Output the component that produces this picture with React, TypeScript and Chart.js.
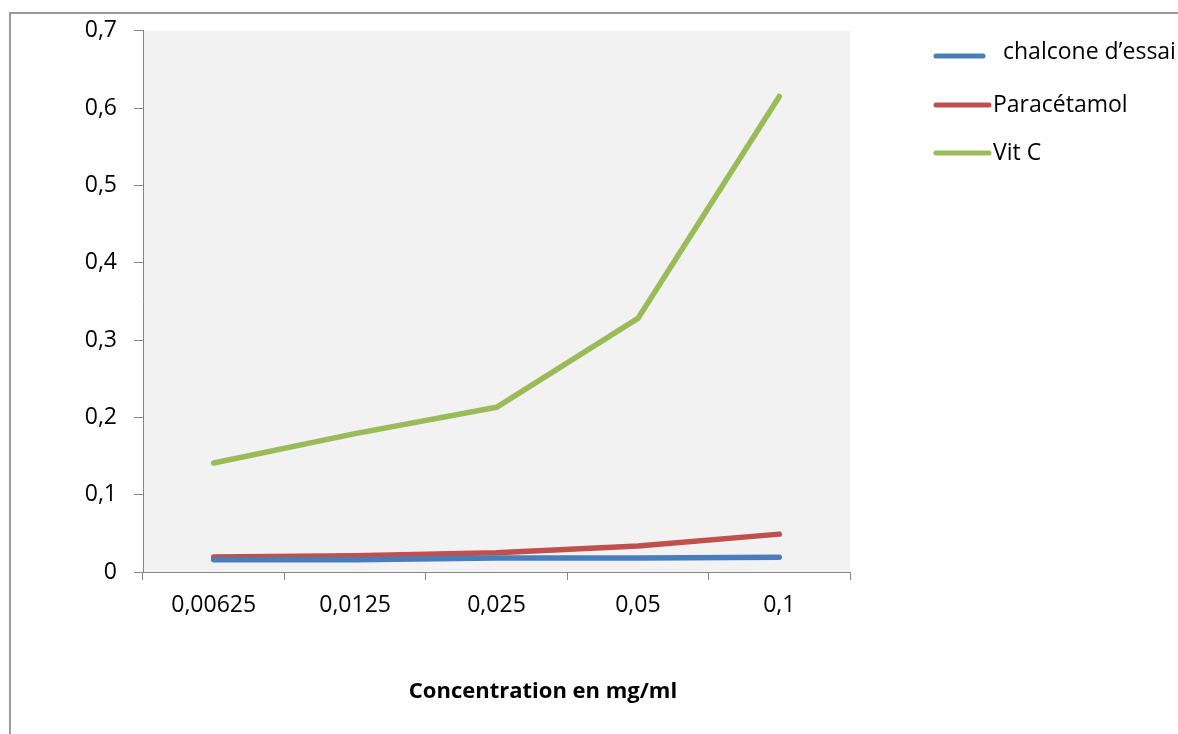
import React, { useEffect, useRef } from "react";
import { Chart, registerables } from "chart.js";

Chart.register(...registerables);

const categories = ["0,00625", "0,0125", "0,025", "0,05", "0,1"];
const chalcone = [0.016, 0.016, 0.018, 0.018, 0.019];
const paracetamol = [0.0195, 0.021, 0.025, 0.0335, 0.049];
const vitC = [0.141, 0.179, 0.213, 0.328, 0.615];
const seriesLabels = [" chalcone d\u2019essai", "Paracétamol", "Vit C"];
const seriesColors = ["#4a7ebb", "#c0504d", "#9bbb59"];
const xTitle = "Concentration en mg/ml";

const FONT = "'Open Sans', sans-serif";

const decor = {
  id: "decor",
  beforeDraw(chart: any) {
    const { ctx, chartArea } = chart;
    ctx.save();
    ctx.fillStyle = "#f2f2f2";
    ctx.fillRect(chartArea.left, chartArea.top, chartArea.right - chartArea.left, chartArea.bottom - chartArea.top);
    // outer frame
    ctx.strokeStyle = "#9a9a9a";
    ctx.lineWidth = 2;
    ctx.beginPath();
    ctx.moveTo(10, 734);
    ctx.lineTo(10, 13);
    ctx.lineTo(1178, 13);
    ctx.stroke();
    ctx.restore();
  },
  afterDraw(chart: any) {
    const { ctx } = chart;
    ctx.save();
    // legend
    const rows = [
      { y: 56, x0: 936, x1: 983, tx: 997, ty: 52 },
      { y: 105, x0: 936, x1: 989, tx: 993, ty: 105 },
      { y: 153, x0: 936, x1: 989, tx: 993, ty: 153 },
    ];
    chart.data.datasets.forEach((ds: any, i: number) => {
      const r = rows[i];
      ctx.strokeStyle = ds.borderColor;
      ctx.lineWidth = 5;
      ctx.lineCap = "round";
      ctx.beginPath();
      ctx.moveTo(r.x0, r.y);
      ctx.lineTo(r.x1, r.y);
      ctx.stroke();
      ctx.fillStyle = "#000";
      ctx.font = `23px ${FONT}`;
      ctx.textBaseline = "middle";
      ctx.textAlign = "left";
      ctx.fillText(ds.label, r.tx, r.ty);
    });
    // x title
    ctx.font = `bold 22px ${FONT}`;
    ctx.fillStyle = "#000";
    ctx.textAlign = "center";
    ctx.textBaseline = "middle";
    ctx.fillText(xTitle, 543, 692);
    ctx.restore();
  },
};

export default function App() {
  const ref = useRef<HTMLCanvasElement>(null);
  useEffect(() => {
    const prevMargin = document.body.style.margin;
    document.body.style.margin = "0";
    const data = [chalcone, paracetamol, vitC];
    const chart = new Chart(ref.current as HTMLCanvasElement, {
      type: "line",
      data: {
        labels: categories,
        datasets: data.map((d, i) => ({
          label: seriesLabels[i],
          data: d,
          borderColor: seriesColors[i],
          backgroundColor: seriesColors[i],
          borderWidth: 5.5,
          borderCapStyle: "round",
          borderJoinStyle: "round",
          pointRadius: 0,
          pointHoverRadius: 0,
          tension: 0,
          fill: false,
        })),
      },
      options: {
        animation: false,
        responsive: false,
        maintainAspectRatio: false,
        layout: { padding: { left: 0, top: 30, right: 328, bottom: 0 } },
        plugins: { legend: { display: false }, tooltip: { enabled: false }, title: { display: false } },
        scales: {
          x: {
            offset: true,
            grid: { offset: true, drawOnChartArea: false, drawTicks: true, tickLength: 8, color: "#868686" },
            border: { display: true, color: "#868686", width: 1 },
            ticks: { color: "#000", font: { family: FONT, size: 23 }, padding: 12, maxRotation: 0, autoSkip: false },
            afterFit(scale: any) {
              scale.height = 734 - 572;
            },
          },
          y: {
            min: 0,
            max: 0.7,
            grid: { drawOnChartArea: false, drawTicks: true, tickLength: 9, color: "#868686" },
            border: { display: true, color: "#868686", width: 1 },
            ticks: {
              stepSize: 0.1,
              color: "#000",
              font: { family: FONT, size: 23 },
              padding: 17,
              callback: (v: any) => {
                const n = Math.round(Number(v) * 10) / 10;
                return n === 0 ? "0" : n.toFixed(1).replace(".", ",");
              },
            },
            afterFit(scale: any) {
              scale.width = 143;
            },
          },
        },
      },
      plugins: [decor],
    } as any);
    return () => {
      chart.destroy();
      document.body.style.margin = prevMargin;
    };
  }, []);
  return (
    <div style={{ position: "absolute", left: 0, top: 0, width: 1178, height: 734, background: "#fff" }}>
      <canvas ref={ref} width={1178} height={734} style={{ display: "block", width: 1178, height: 734 }} />
    </div>
  );
}
